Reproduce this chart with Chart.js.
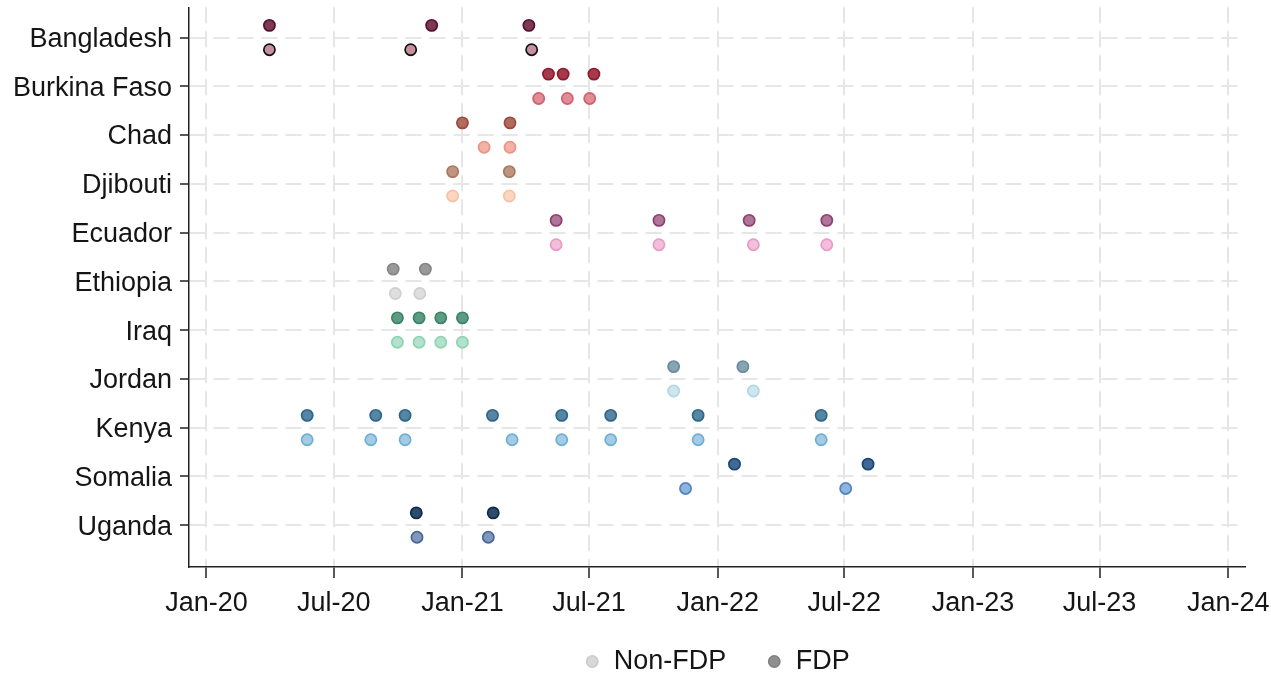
<!DOCTYPE html>
<html>
<head>
<meta charset="utf-8">
<script src="https://cdn.jsdelivr.net/npm/chart.js@4.4.1/dist/chart.umd.min.js"></script>
<style>
  html, body { margin: 0; padding: 0; background: #ffffff; }
  canvas { display: block; }
</style>
</head>
<body>
<canvas id="chart" width="1271" height="674"></canvas>
<script>
// Countries, top to bottom
const countries = ['Bangladesh', 'Burkina Faso', 'Chad', 'Djibouti', 'Ecuador', 'Ethiopia',
                   'Iraq', 'Jordan', 'Kenya', 'Somalia', 'Uganda'];

// Survey round dates (FDP sample), one list per country
const fdpDates = [
  ['2020-03-31', '2020-11-18', '2021-04-06'],
  ['2021-05-04', '2021-05-25', '2021-07-08'],
  ['2021-01-01', '2021-03-10'],
  ['2020-12-18', '2021-03-09'],
  ['2021-05-15', '2021-10-09', '2022-02-15', '2022-06-06'],
  ['2020-09-24', '2020-11-09'],
  ['2020-09-30', '2020-10-31', '2020-12-01', '2021-01-01'],
  ['2021-10-30', '2022-02-06'],
  ['2020-05-24', '2020-08-30', '2020-10-11', '2021-02-13', '2021-05-23', '2021-08-01', '2021-12-04', '2022-05-29'],
  ['2022-01-25', '2022-08-04'],
  ['2020-10-27', '2021-02-14']
];

// Survey round dates (Non-FDP sample), one list per country
const nonFdpDates = [
  ['2020-03-31', '2020-10-19', '2021-04-10'],
  ['2021-04-20', '2021-05-31', '2021-07-02'],
  ['2021-02-01', '2021-03-10'],
  ['2020-12-18', '2021-03-09'],
  ['2021-05-15', '2021-10-09', '2022-02-21', '2022-06-06'],
  ['2020-09-27', '2020-11-01'],
  ['2020-09-30', '2020-10-31', '2020-12-01', '2021-01-01'],
  ['2021-10-30', '2022-02-21'],
  ['2020-05-24', '2020-08-23', '2020-10-11', '2021-03-13', '2021-05-23', '2021-08-01', '2021-12-04', '2022-05-29'],
  ['2021-11-16', '2022-07-03'],
  ['2020-10-28', '2021-02-07']
];

// Axis ticks
const xTickDates = ['2020-01-01', '2020-07-01', '2021-01-01', '2021-07-01', '2022-01-01',
                    '2022-07-01', '2023-01-01', '2023-07-01', '2024-01-01'];
const xTickLabels = ['Jan-20', 'Jul-20', 'Jan-21', 'Jul-21', 'Jan-22', 'Jul-22', 'Jan-23', 'Jul-23', 'Jan-24'];

// Marker colours per country: [border, fill]
const fdpColors = [
  ['#5b0d2c', '#7d3a55'], ['#8a1c2e', '#a63a4c'], ['#9a4a3a', '#b06b5c'], ['#a87860', '#bf9580'],
  ['#8f3f6e', '#b0769a'], ['#858585', '#999999'], ['#3b8466', '#5d9c82'], ['#6a8c9e', '#88a3b1'],
  ['#2d6689', '#5586a4'], ['#1b4679', '#416992'], ['#0e2a4c', '#2d4b6b']
];
const nonFdpColors = [
  ['#111111', '#c8909f'], ['#d0606f', '#e08c96'], ['#e99484', '#f2b3a6'], ['#f7c2a3', '#fbd5c0'],
  ['#e89ac4', '#f2bedb'], ['#cfcfcf', '#dedede'], ['#8ed4b4', '#b3e2cc'], ['#b2d6e6', '#cfe6ef'],
  ['#6dafd6', '#a4cbe4'], ['#4c85c2', '#8fb3da'], ['#46679a', '#8298b9']
];

const EPOCH = Date.UTC(2020, 0, 1);
function dayNum(s) {
  const [y, m, d] = s.split('-').map(Number);
  return (Date.UTC(y, m - 1, d) - EPOCH) / 86400000;
}

// FDP rounds sit just above each country line, Non-FDP just below
const ROW_SHIFT = 0.25;
function buildSeries(dates, colors, shift) {
  const pts = [], borders = [], fills = [];
  dates.forEach((list, i) => {
    list.forEach(d => {
      pts.push({ x: dayNum(d), y: i + shift });
      borders.push(colors[i][0]);
      fills.push(colors[i][1]);
    });
  });
  return { pts, borders, fills };
}

const nonFdp = buildSeries(nonFdpDates, nonFdpColors, ROW_SHIFT);
const fdp = buildSeries(fdpDates, fdpColors, -ROW_SHIFT);

const FONT = 'Liberation Sans, Arial, Helvetica, sans-serif';
const FONT_SIZE = 27;
const textColor = '#151515';
const gridColor = '#e6e6e6';
const axisColor = '#222222';

// The date labels hang a little below the axis box; let them draw past it
const unclipDateLabels = {
  id: 'unclipDateLabels',
  afterLayout(chart) {
    chart.scales.x.bottom = chart.height;
  }
};

new Chart(document.getElementById('chart'), {
  type: 'scatter',
  plugins: [unclipDateLabels],
  data: {
    datasets: [
      {
        label: 'Non-FDP',
        data: nonFdp.pts,
        pointBackgroundColor: nonFdp.fills,
        pointBorderColor: nonFdp.borders,
        pointBorderWidth: 1.7,
        pointRadius: 5.6,
        pointHoverRadius: 5.6
      },
      {
        label: 'FDP',
        data: fdp.pts,
        pointBackgroundColor: fdp.fills,
        pointBorderColor: fdp.borders,
        pointBorderWidth: 1.7,
        pointRadius: 5.6,
        pointHoverRadius: 5.6
      }
    ]
  },
  options: {
    responsive: false,
    animation: false,
    devicePixelRatio: 1,
    layout: { padding: { top: 7, right: 26, bottom: -11, left: 0 } },
    plugins: {
      tooltip: { enabled: false },
      legend: {
        position: 'bottom',
        fullSize: false,
        labels: {
          usePointStyle: true,
          boxWidth: 16,
          boxHeight: 8,
          padding: 40,
          color: textColor,
          font: { family: FONT, size: FONT_SIZE },
          generateLabels: () => [
            { text: 'Non-FDP', fillStyle: '#d8d8d8', strokeStyle: '#cacaca', lineWidth: 1.5,
              pointStyle: 'circle', hidden: false, datasetIndex: 0, fontColor: textColor },
            { text: 'FDP', fillStyle: '#8f8f8f', strokeStyle: '#7f7f7f', lineWidth: 1.5,
              pointStyle: 'circle', hidden: false, datasetIndex: 1, fontColor: textColor }
          ]
        }
      }
    },
    scales: {
      x: {
        type: 'linear',
        min: -25,
        max: 1485,
        afterBuildTicks: (scale) => {
          scale.ticks = xTickDates.map(d => ({ value: dayNum(d) }));
        },
        afterFit: (scale) => {
          scale.height = 41;
          scale.paddingLeft = 0;
          scale.paddingRight = 0;
        },
        ticks: {
          autoSkip: false,
          maxRotation: 0,
          padding: 9,
          color: textColor,
          font: { family: FONT, size: FONT_SIZE },
          callback: (v, i) => xTickLabels[i]
        },
        grid: {
          color: gridColor,
          lineWidth: 2,
          drawTicks: true,
          tickLength: 11,
          tickColor: axisColor,
          tickWidth: 1.5,
          tickBorderDash: [1, 0]
        },
        border: { display: true, color: axisColor, width: 1.5, dash: [16, 8] }
      },
      y: {
        type: 'linear',
        reverse: true,
        min: -0.62,
        max: 10.86,
        afterBuildTicks: (scale) => {
          scale.ticks = countries.map((c, i) => ({ value: i }));
        },
        afterFit: (scale) => {
          scale.width = 189;
          scale.paddingTop = 0;
          scale.paddingBottom = 0;
        },
        ticks: {
          autoSkip: false,
          padding: 8,
          labelOffset: 2,
          color: textColor,
          font: { family: FONT, size: FONT_SIZE },
          callback: (v) => countries[v]
        },
        grid: {
          color: gridColor,
          lineWidth: 2,
          drawTicks: true,
          tickLength: 9,
          tickColor: axisColor,
          tickWidth: 1.5,
          tickBorderDash: [1, 0]
        },
        border: { display: true, color: axisColor, width: 1.5, dash: [16, 8] }
      }
    }
  }
});
</script>
</body>
</html>
